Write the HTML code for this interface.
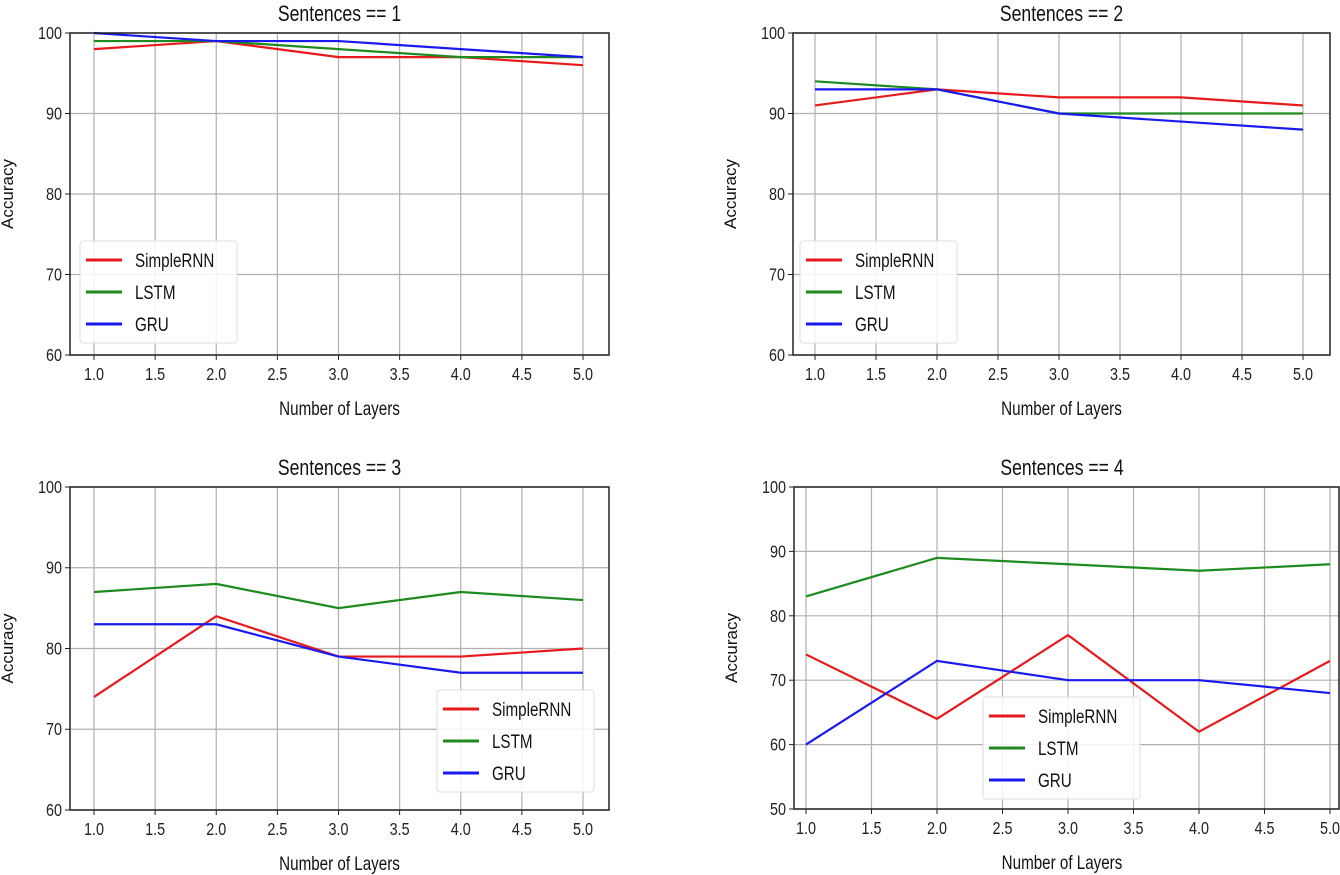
<!DOCTYPE html>
<html><head><meta charset="utf-8"><style>
body{margin:0;background:#fff;}
svg{display:block;font-family:"Liberation Sans",sans-serif;}
svg text{transform-box:fill-box;transform-origin:center;transform:scaleX(0.8);}
svg text.end{transform-origin:right center;}
svg text.start{transform-origin:left center;}
</style></head><body>
<svg id="c" width="1340" height="875"></svg>
<script>
const xTicks=[1.0,1.5,2.0,2.5,3.0,3.5,4.0,4.5,5.0];
const layers=[1,2,3,4,5];
const titles=["Sentences == 1","Sentences == 2","Sentences == 3","Sentences == 4"];
const rnn1=[98,99,97,97,96], lstm1=[99,99,98,97,97], gru1=[100,99,99,98,97];
const rnn2=[91,93,92,92,91], lstm2=[94,93,90,90,90], gru2=[93,93,90,89,88];
const rnn3=[74,84,79,79,80], lstm3=[87,88,85,87,86], gru3=[83,83,79,77,77];
const rnn4=[74,64,77,62,73], lstm4=[83,89,88,87,88], gru4=[60,73,70,70,68];
const yTicks1=[60,70,80,90,100], yTicks4=[50,60,70,80,90,100];
const seriesNames=["SimpleRNN","LSTM","GRU"];
const colors=["#e8191c","#1f8a1f","#1a1aee"];
const panels=[
 {L:70,R:609,T:33,B:355,x1:94,x5:583,ticks:yTicks1,data:[rnn1,lstm1,gru1],leg:[80,241]},
 {L:793,R:1330,T:33,B:355,x1:815,x5:1303,ticks:yTicks1,data:[rnn2,lstm2,gru2],leg:[800,241]},
 {L:70,R:609,T:487,B:810,x1:94,x5:583,ticks:yTicks1,data:[rnn3,lstm3,gru3],leg:[437,690]},
 {L:794,R:1339,T:487,B:809,x1:806,x5:1330,ticks:yTicks4,data:[rnn4,lstm4,gru4],leg:[983,697]}
];
const svg=document.getElementById('c');
const NS="http://www.w3.org/2000/svg";
function mk(t,a,p){const e=document.createElementNS(NS,t);for(const k in a)e.setAttribute(k,a[k]);(p||svg).appendChild(e);return e;}
panels.forEach((p,i)=>{
 const g=mk('g',{});
 
 
 const ymin=p.ticks[0],ymax=p.ticks[p.ticks.length-1];
 const X=v=>p.x1+(v-1)*(p.x5-p.x1)/4;
 const Y=v=>p.B-(v-ymin)*(p.B-p.T)/(ymax-ymin);
 xTicks.forEach(t=>{
  const l=mk('line',{x1:X(t),x2:X(t),y1:p.T,y2:p.B,stroke:'#b0b0b0','stroke-width':1.2},g);
  
  
  mk('line',{x1:X(t),x2:X(t),y1:p.B,y2:p.B+5,stroke:'#222'},g);
  const tx=mk('text',{x:X(t),y:p.B+25,'text-anchor':'middle','font-size':18,fill:'#222'},g);
  tx.textContent=t.toFixed(1);
  
  
 });
 p.ticks.forEach(t=>{
  const l=mk('line',{x1:p.L,x2:p.R,y1:Y(t),y2:Y(t),stroke:'#b0b0b0','stroke-width':1.2},g);
  
  
  mk('line',{x1:p.L-5,x2:p.L,y1:Y(t),y2:Y(t),stroke:'#222'},g);
  const tx=mk('text',{x:p.L-8,y:Y(t)+6,'text-anchor':'end','font-size':18,fill:'#222','class':'end'},g);
  tx.textContent=t;
  
  
 });
 p.data.forEach((d,s)=>{
  const pl=mk('polyline',{points:d.map((v,j)=>X(layers[j])+','+Y(v)).join(' '),fill:'none',stroke:colors[s],'stroke-width':2.2},g);
  
  
 });
 const fr=mk('rect',{x:p.L,y:p.T,width:p.R-p.L,height:p.B-p.T,fill:'none',stroke:'#222','stroke-width':1.5},g);
 
 
 const ti=mk('text',{x:(p.L+Math.min(p.R,1330))/2,y:p.T-12,'text-anchor':'middle','font-size':22,fill:'#111'},g);
 ti.textContent=titles[i];
 
 
 const xl=mk('text',{x:(p.L+Math.min(p.R,1330))/2,y:p.B+60,'text-anchor':'middle','font-size':19,fill:'#111'},g);
 xl.textContent='Number of Layers';
 
 
 const cy=(p.T+p.B)/2, cx=p.L-57;
 const yl=mk('text',{x:cx,y:cy,'text-anchor':'middle','font-size':17,fill:'#111',style:'transform:rotate(-90deg);transform-origin:'+cx+'px '+cy+'px;transform-box:view-box'},g);
 yl.textContent='Accuracy';
 
 
 const lg=mk('g',{},g);
 
 
 mk('rect',{x:p.leg[0],y:p.leg[1],width:157,height:102,rx:3,fill:'#fff','fill-opacity':0.85,stroke:'#ddd'},lg);
 seriesNames.forEach((n,s)=>{
  const yy=p.leg[1]+19+s*32;
  mk('line',{x1:p.leg[0]+6,x2:p.leg[0]+42,y1:yy,y2:yy,stroke:colors[s],'stroke-width':3},lg);
  const t=mk('text',{x:p.leg[0]+55,y:yy+7,'font-size':19,fill:'#111','class':'start'},lg);
  t.textContent=n;
  
  
 });
});
</script>
</body></html>
